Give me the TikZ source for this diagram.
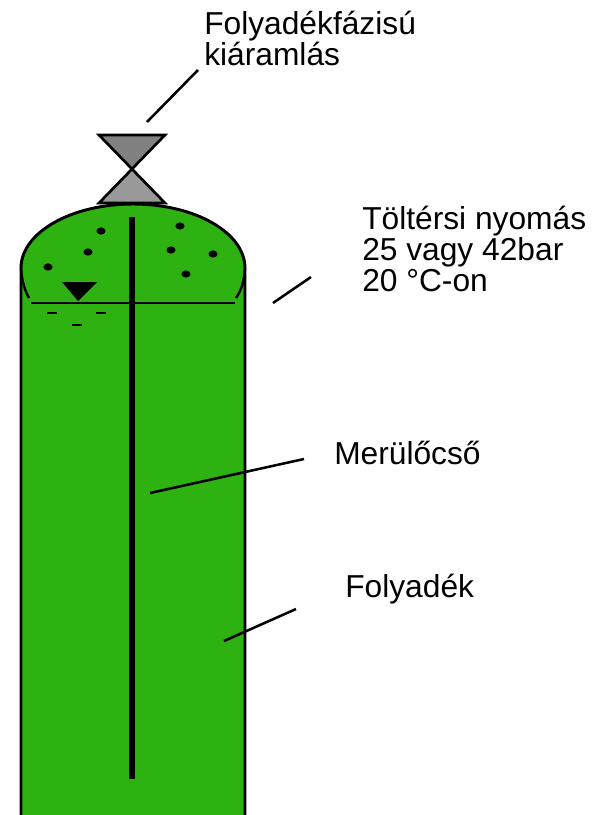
\documentclass[tikz,border=0pt]{standalone}
\usepackage{fontspec}
\setmainfont{Liberation Sans}
\usepackage{tikz}
\usetikzlibrary{calc,shapes.geometric}
\definecolor{tankgreen}{RGB}{45,178,18}
\definecolor{valvedark}{RGB}{128,128,128}
\definecolor{valvelight}{RGB}{153,153,153}
\tikzset{
  caption/.style={anchor=base west, align=left, inner sep=0pt, font=\fontsize{23.8}{23.2}\selectfont},
  leader/.style={line width=1.9pt},
  bubble/.style={fill=black, ellipse, inner sep=0pt, minimum width=6.8pt, minimum height=5.4pt},
  dropmark/.style={line width=1.7pt},
}

\begin{document}
\begin{tikzpicture}[x=0.75pt,y=-0.75pt]
\useasboundingbox (0,0) rectangle (600,815);

% tank
\fill[tankgreen] (21,815) -- (21,268) arc[start angle=180, end angle=360, x radius=112, y radius=64] -- (245,815) -- cycle;
\draw[line width=2.2pt] (21,815) -- (21,268) arc[start angle=180, end angle=360, x radius=112, y radius=64] -- (245,815);
\draw[line width=1.8pt] (21,268) .. controls (22,282) and (25,291) .. (29,298);
\draw[line width=1.8pt] (245,268) .. controls (244,282) and (241,291) .. (236,298);

% valve
\draw[line width=2pt, fill=valvedark] (99,135) -- (165,135) -- (132,169) -- cycle;
\draw[line width=2pt, fill=valvelight] (132,169) -- (165,203) -- (99,203) -- cycle;

% liquid level and dip tube
\draw[line width=2pt] (31,303) -- (235,303);
\draw[line width=4.2pt] (132,217) -- (132,779);
\fill (62,282) -- (97,282) -- (78,301) -- cycle;

% gas bubbles
\foreach \n/\x/\y in {a/101/231, b/88/252, c/48/267, d/180/226, e/171/250, f/213/254, g/186/274}
  \node[bubble] (bub\n) at (\x,\y) {};

% liquid marks
\foreach \x/\y in {52/313, 101/313, 77/325}
  \draw[dropmark] (\x-5,\y) -- (\x+5,\y);

% labels
\node[caption] (outflow) at (204,65) {Folyadékfázisú\\kiáramlás};
\node[caption] (pressure) at (362,291) {Töltérsi nyomás\\25 vagy 42bar\\20 °C-on};
\node[caption] (diptube) at (334,464) {Merülőcső};
\node[caption] (liquid) at (345,597) {Folyadék};

% leader lines
\coordinate (outA) at (147,122);
\coordinate (outB) at (198,70);
\coordinate (presA) at (273,303);
\coordinate (presB) at (311,277);
\coordinate (dipA) at (150,493);
\coordinate (dipB) at (304,459);
\coordinate (liqA) at (224,641);
\coordinate (liqB) at (296,609);
\draw[leader] (outA) -- (outB);
\draw[leader] (presA) -- (presB);
\draw[leader] (dipA) -- (dipB);
\draw[leader] (liqA) -- (liqB);
\end{tikzpicture}
\end{document}
